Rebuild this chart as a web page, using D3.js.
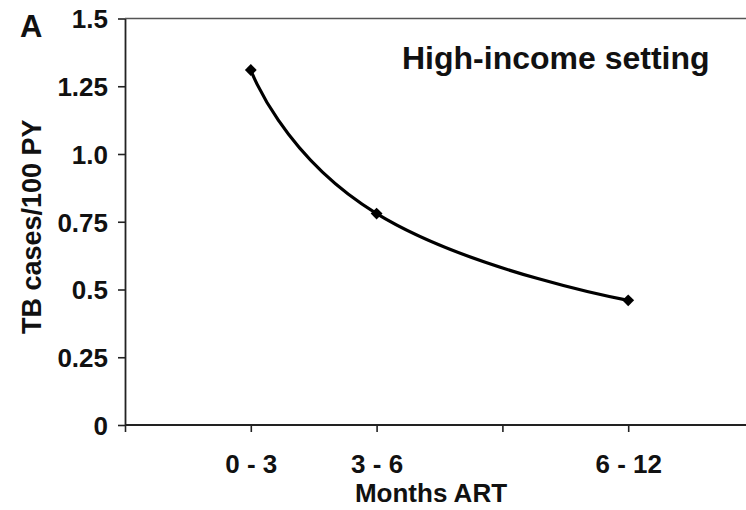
<!DOCTYPE html>
<html>
<head>
<meta charset="utf-8">
<script src="https://cdn.jsdelivr.net/npm/d3@7"></script>
<style>
  html, body { margin: 0; padding: 0; background: #fff; }
  svg text { font-family: "Liberation Sans", Arial, sans-serif; font-weight: bold; fill: #111; }
</style>
</head>
<body>
<svg id="chart" width="746" height="510"></svg>
<script>
// Incidence of TB by time on ART
const periods = ["0 - 3", "3 - 6", "6 - 12"];
const periodPos = [1, 2, 4];           // position on the x axis
const tbRate = [1.31, 0.78, 0.46];     // TB cases / 100 PY
const xTickValues = [0, 1, 2, 3, 4, 5];
const xTickLabels = ["", "0 - 3", "3 - 6", "", "6 - 12", ""];
const yTickValues = [0, 0.25, 0.5, 0.75, 1.0, 1.25, 1.5];
const yTickLabels = ["0", "0.25", "0.5", "0.75", "1.0", "1.25", "1.5"];

const svg = d3.select("#chart");
const W = 746;

const x = d3.scaleLinear().domain([0, 5]).range([125, 754]);
const y = d3.scaleLinear().domain([0, 1.5]).range([425, 18.5]);

// top frame line
svg.append("line")
  .attr("x1", x(0)).attr("x2", W)
  .attr("y1", y(1.5)).attr("y2", y(1.5))
  .attr("stroke", "#555").attr("stroke-width", 1.6);

// y axis
const yAxis = svg.append("g")
  .attr("transform", `translate(${x(0)},0)`)
  .call(d3.axisLeft(y).tickValues(yTickValues)
    .tickFormat((d, i) => yTickLabels[i]).tickSize(7).tickSizeOuter(0).tickPadding(10));

// x axis
const xAxis = svg.append("g")
  .attr("transform", `translate(0,${y(0)})`)
  .call(d3.axisBottom(x).tickValues(xTickValues)
    .tickFormat((d, i) => xTickLabels[i]).tickSize(7).tickSizeOuter(0).tickPadding(23));

[yAxis, xAxis].forEach(g => {
  g.select(".domain").attr("stroke", "#222").attr("stroke-width", 1.8);
  g.selectAll(".tick line").attr("stroke", "#222").attr("stroke-width", 1.6);
  g.selectAll(".tick text").attr("fill", "#111")
    .style("font-family", "'Liberation Sans', Arial, sans-serif")
    .style("font-weight", "bold").style("font-size", "26px");
});
xAxis.select(".domain").attr("d", `M${x(0)},0H${W}`);
yAxis.selectAll(".tick text").attr("dy", "0.36em");

// smoothed curve
const pts = tbRate.map((v, i) => [x(periodPos[i]), y(v)]);
const line = d3.line().curve(d3.curveCardinal.tension(-0.5));
svg.append("path")
  .attr("d", line(pts))
  .attr("fill", "none").attr("stroke", "#000").attr("stroke-width", 3.2);

// diamond markers
svg.selectAll(".pt").data(pts).enter().append("path")
  .attr("class", "pt")
  .attr("d", d3.symbol(d3.symbolSquare, 70)())
  .attr("transform", d => `translate(${d[0]},${d[1]}) rotate(45)`)
  .attr("fill", "#000");

// panel letter
svg.append("text").attr("x", 20).attr("y", 37)
  .style("font-size", "31px").text("A");

// setting label
svg.append("text").attr("x", 402).attr("y", 69)
  .style("font-size", "32px").text("High-income setting");

// axis titles
svg.append("text")
  .attr("transform", `translate(41,${(y(0) + y(1.5)) / 2 + 5}) rotate(-90)`)
  .attr("text-anchor", "middle")
  .style("font-size", "27px").text("TB cases/100 PY");

svg.append("text").attr("x", 431).attr("y", 502)
  .attr("text-anchor", "middle")
  .style("font-size", "26px").text("Months ART");
</script>
</body>
</html>
